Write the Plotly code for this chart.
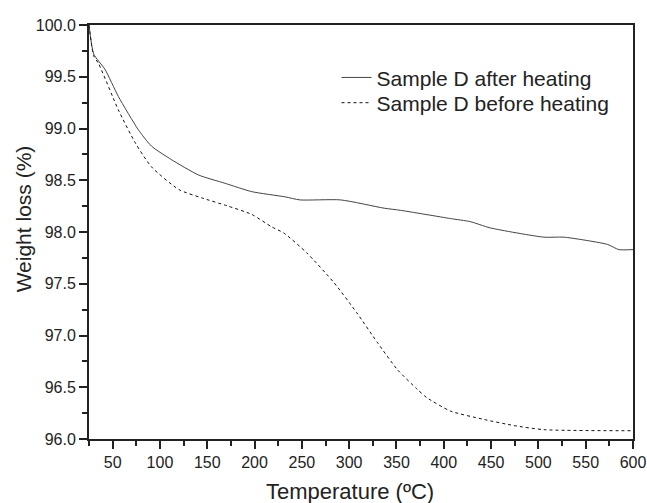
import plotly.graph_objects as go

temp_after = [25, 30, 42, 56, 77, 91, 112, 141, 169, 197, 232, 248, 291, 337, 354, 407, 428, 449, 506, 527, 573, 585, 600]
wt_after = [100.0, 99.72, 99.57, 99.31, 98.99, 98.83, 98.70, 98.55, 98.47, 98.39, 98.34, 98.31, 98.31, 98.23, 98.21, 98.13, 98.10, 98.04, 97.95, 97.95, 97.88, 97.83, 97.83]

temp_before = [25, 30, 35, 56, 74, 91, 120, 144, 172, 197, 218, 231, 255, 284, 308, 330, 351, 372, 382, 407, 442, 474, 506, 600]
wt_before = [100.0, 99.70, 99.63, 99.18, 98.86, 98.63, 98.41, 98.33, 98.25, 98.17, 98.05, 97.99, 97.80, 97.51, 97.22, 96.93, 96.67, 96.48, 96.40, 96.27, 96.19, 96.13, 96.09, 96.08]

FONT = "Liberation Sans, Arial, sans-serif"

fig = go.Figure()
fig.add_trace(go.Scatter(x=temp_after, y=wt_after, mode="lines", name="Sample D after heating",
                         legend="legend",
                         line=dict(color="#444444", width=1, shape="spline", smoothing=0.6)))
fig.add_trace(go.Scatter(x=temp_before, y=wt_before, mode="lines", name="Sample D before heating",
                         legend="legend2",
                         line=dict(color="#111111", width=1, dash="3px,3px", shape="spline", smoothing=0.6)))

axis_common = dict(showline=True, linecolor="#222222", linewidth=2, mirror=True,
                   ticks="outside", ticklen=8, tickwidth=1.5, tickcolor="#222222",
                   showgrid=False, zeroline=False, automargin=False,
                   tickfont=dict(family=FONT, size=16, color="#222222"))

legend_common = dict(xanchor="left", yanchor="top", bgcolor="rgba(0,0,0,0)",
                     font=dict(family=FONT, size=21, color="#222222"))

fig.update_layout(
    width=647, height=503,
    margin=dict(l=89, r=14, t=25, b=64),
    paper_bgcolor="white", plot_bgcolor="white",
    font=dict(family=FONT, color="#222222"),
    xaxis=dict(range=[25, 600], tick0=0, dtick=50,
               minor=dict(dtick=25, ticks="outside", ticklen=5, tickwidth=1.5, tickcolor="#222222"),
               **axis_common),
    yaxis=dict(range=[96, 100], tick0=96, dtick=0.5, tickformat=".1f",
               minor=dict(dtick=0.25, ticks="outside", ticklen=5, tickwidth=1.5, tickcolor="#222222"),
               **axis_common),
    legend=dict(x=0.455, y=0.922, **legend_common),
    legend2=dict(x=0.455, y=0.861, **legend_common),
    showlegend=True,
    annotations=[
        dict(text="Temperature (ºC)", xref="paper", yref="paper", x=0.48, y=-0.126,
             xanchor="center", yanchor="middle", showarrow=False,
             font=dict(family=FONT, size=22, color="#222222")),
        dict(text="Weight loss (%)", xref="paper", yref="paper", x=-0.121, y=0.531,
             xanchor="center", yanchor="middle", showarrow=False, textangle=-90,
             font=dict(family=FONT, size=21, color="#222222")),
    ],
)

fig.write_html("out.html", config={"displayModeBar": False},
               post_script="document.body.style.margin='0';document.body.style.overflow='hidden';")
